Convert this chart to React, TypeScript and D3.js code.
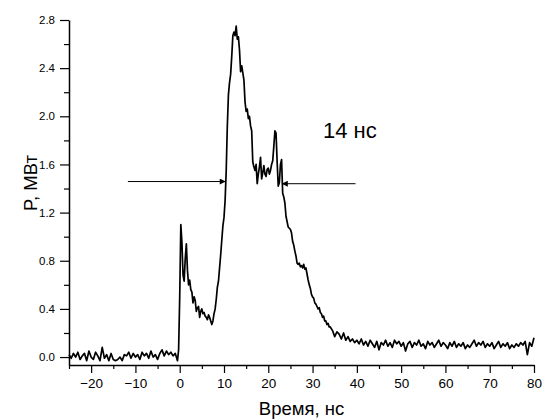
import { useEffect, useRef } from "react";
import * as d3 from "d3";

// chart size (same as the window)
const width = 543;
const height = 419;

// plot area edges, in pixels
const margin = { top: 20, right: 9, bottom: 54, left: 69 };

// signal before the trigger, [time ns, power MW]
const preTrigger: [number, number][] = [
  [-25, 0.02], [-24.5, -0.01], [-24, 0.03], [-23.5, 0.0], [-23, 0.04], [-22.5, -0.02],
  [-22, 0.01], [-21.5, 0.03], [-21, -0.03], [-20.5, 0.05], [-20, 0.0], [-19.5, -0.02],
  [-19, 0.04], [-18.5, 0.01], [-18, -0.03], [-17.5, 0.08], [-17, -0.01], [-16.5, 0.02],
  [-16, -0.03], [-15.5, 0.03], [-15, -0.02], [-14.5, -0.03], [-14, -0.02], [-13.5, 0.0],
  [-13, -0.03], [-12.5, 0.02], [-12, 0.01], [-11.5, 0.04], [-11, -0.01], [-10.5, 0.03],
  [-10, 0.0], [-9.5, 0.02], [-9, -0.02], [-8.5, 0.04], [-8, 0.01], [-7.5, 0.03],
  [-7, -0.01], [-6.5, 0.05], [-6, 0.0], [-5.5, 0.02], [-5, -0.02], [-4.5, 0.03],
  [-4, 0.06], [-3.5, 0.01], [-3, 0.05], [-2.5, 0.02], [-2, 0.04], [-1.5, 0.01],
  [-1, 0.03], [-0.5, -0.03],
];

// the pulse itself
const pulse: [number, number][] = [
  [-0.25, 0.06], [0, 0.5], [0.25, 1.1], [0.5, 0.95], [0.75, 0.68], [1, 0.63],
  [1.25, 0.82], [1.5, 0.94], [1.75, 0.72], [2, 0.6], [2.25, 0.64], [2.5, 0.56],
  [2.75, 0.54], [3, 0.45], [3.25, 0.5], [3.5, 0.47], [3.75, 0.38], [4, 0.41],
  [4.25, 0.42], [4.5, 0.33], [4.75, 0.38], [5, 0.4], [5.25, 0.36], [5.5, 0.37],
  [5.75, 0.34], [6, 0.33], [6.25, 0.31], [6.5, 0.35], [6.75, 0.33], [7, 0.3],
  [7.25, 0.27], [7.5, 0.3], [7.75, 0.36], [8, 0.4], [8.25, 0.48], [8.5, 0.58],
  [8.75, 0.63], [9, 0.74], [9.25, 0.85], [9.5, 0.97], [9.75, 1.09], [10, 1.16],
  [10.25, 1.3], [10.5, 1.55], [10.75, 1.92], [11, 2.18], [11.25, 2.28], [11.5, 2.35],
  [11.75, 2.5], [12, 2.67], [12.25, 2.7], [12.5, 2.67], [12.75, 2.75], [13, 2.64],
  [13.25, 2.66], [13.5, 2.55], [13.75, 2.37], [14, 2.42], [14.25, 2.36], [14.5, 2.3],
  [14.75, 2.12], [15, 2.04], [15.25, 2.06], [15.5, 1.98], [15.75, 2.0], [16, 1.92],
  [16.25, 1.88], [16.5, 1.62], [16.75, 1.58], [17, 1.55], [17.25, 1.6], [17.5, 1.44],
  [17.75, 1.52], [18, 1.58], [18.25, 1.66], [18.5, 1.48], [18.75, 1.53], [19, 1.59],
  [19.25, 1.52], [19.5, 1.5], [19.75, 1.56], [20, 1.57], [20.25, 1.52], [20.5, 1.55],
  [20.75, 1.6], [21, 1.63], [21.25, 1.75], [21.5, 1.88], [21.75, 1.86], [22, 1.62],
  [22.25, 1.42], [22.5, 1.45], [22.75, 1.6], [23, 1.64], [23.25, 1.36], [23.5, 1.33],
  [23.75, 1.28], [24, 1.17],
];

// decay and the long tail
const decay: [number, number][] = [
  [24.5, 1.08], [25, 1.06], [25.25, 1.03], [25.5, 0.96], [25.75, 0.93], [26, 0.88],
  [26.25, 0.84], [26.5, 0.78], [26.75, 0.77], [27, 0.78], [27.25, 0.75], [27.5, 0.76],
  [27.75, 0.74], [28, 0.77], [28.25, 0.73], [28.5, 0.74], [28.75, 0.69], [29, 0.64],
  [29.25, 0.6], [29.5, 0.57], [29.75, 0.52], [30, 0.5], [30.25, 0.49], [30.5, 0.45],
  [30.75, 0.44], [31, 0.42], [31.25, 0.4], [31.5, 0.41], [31.75, 0.37], [32, 0.36],
  [32.25, 0.33], [32.5, 0.34], [32.75, 0.3], [33, 0.3], [33.25, 0.27], [33.5, 0.28],
  [33.75, 0.25], [34, 0.25], [34.5, 0.22], [35, 0.17], [35.5, 0.21], [36, 0.19],
  [36.5, 0.15], [37, 0.2], [37.5, 0.14], [38, 0.17], [38.5, 0.13], [39, 0.15],
  [39.5, 0.12], [40, 0.14], [40.5, 0.11], [41, 0.15], [41.5, 0.1], [42, 0.13],
  [42.5, 0.09], [43, 0.14], [43.5, 0.11], [44, 0.08], [44.5, 0.13], [45, 0.06],
  [45.5, 0.12], [46, 0.1], [46.5, 0.14], [47, 0.09], [47.5, 0.12], [48, 0.08],
  [48.5, 0.14], [49, 0.11], [49.5, 0.13], [50, 0.09], [50.5, 0.12], [51, 0.05],
  [51.5, 0.11], [52, 0.13], [52.5, 0.08], [53, 0.12], [53.5, 0.1], [54, 0.14],
  [54.5, 0.09], [55, 0.11], [55.5, 0.07], [56, 0.13], [56.5, 0.1], [57, 0.12],
  [57.5, 0.08], [58, 0.11], [58.5, 0.14], [59, 0.09], [59.5, 0.12], [60, 0.1],
  [60.5, 0.07], [61, 0.12], [61.5, 0.09], [62, 0.13], [62.5, 0.08], [63, 0.11],
  [63.5, 0.09], [64, 0.12], [64.5, 0.07], [65, 0.1], [65.5, 0.08], [66, 0.11],
  [66.5, 0.14], [67, 0.09], [67.5, 0.12], [68, 0.1], [68.5, 0.13], [69, 0.08],
  [69.5, 0.11], [70, 0.09], [70.5, 0.12], [71, 0.07], [71.5, 0.1], [72, 0.13],
  [72.5, 0.08], [73, 0.11], [73.5, 0.09], [74, 0.12], [74.5, 0.07], [75, 0.1],
  [75.5, 0.08], [76, 0.11], [76.5, 0.09], [77, 0.12], [77.5, 0.1], [78, 0.13],
  [78.5, 0.02], [79, 0.12], [79.5, 0.09], [80, 0.16],
];

// tick values
const xTicks = [-20, -10, 0, 10, 20, 30, 40, 50, 60, 70, 80];
const yTicks = [0, 0.4, 0.8, 1.2, 1.6, 2.0, 2.4, 2.8];

// FWHM arrows: [from time, to time, power]
const leftArrow = [-11.7, 10.4, 1.458];
const rightArrow = [39.7, 23.05, 1.44];

const font = "'Liberation Sans', Arial, sans-serif";

const drawChart = (node: SVGSVGElement) => {
  const svg = d3.select(node);
  svg.selectAll("*").remove();

  const x = d3.scaleLinear()
    .domain([-25, 80])
    .range([margin.left, width - margin.right]);
  const y = d3.scaleLinear()
    .domain([-0.066, 2.8])
    .range([height - margin.bottom, margin.top]);

  // minor ticks first, under the axes
  const xMinor = d3.range(-25, 81, 5).filter(v => !xTicks.includes(v));
  svg.append("g")
    .attr("transform", `translate(0,${height - margin.bottom})`)
    .call(d3.axisBottom(x).tickValues(xMinor).tickSize(4).tickFormat(() => ""))
    .call(g => g.select(".domain").remove())
    .call(g => g.selectAll("line").attr("stroke-width", 1.2));

  const yMinor = d3.range(0.2, 2.8, 0.4);
  svg.append("g")
    .attr("transform", `translate(${margin.left},0)`)
    .call(d3.axisLeft(y).tickValues(yMinor).tickSize(5).tickFormat(() => ""))
    .call(g => g.select(".domain").remove())
    .call(g => g.selectAll("line").attr("stroke-width", 1.2));

  // x axis
  svg.append("g")
    .attr("transform", `translate(0,${height - margin.bottom})`)
    .call(d3.axisBottom(x).tickValues(xTicks).tickSize(8).tickSizeOuter(0).tickPadding(5))
    .call(g => g.select(".domain").attr("stroke-width", 1.5))
    .call(g => g.selectAll("line").attr("stroke-width", 1.2))
    .call(g => g.selectAll("text")
      .attr("font-family", font)
      .attr("font-size", 13.5)
      .attr("fill", "#000"));

  // y axis
  svg.append("g")
    .attr("transform", `translate(${margin.left},0)`)
    .call(d3.axisLeft(y).tickValues(yTicks).tickSize(9).tickSizeOuter(0).tickPadding(5)
      .tickFormat(d3.format(".1f")))
    .call(g => g.select(".domain").attr("stroke-width", 1.5))
    .call(g => g.selectAll("line").attr("stroke-width", 1.2))
    .call(g => g.selectAll("text")
      .attr("font-family", font)
      .attr("font-size", 11.5)
      .attr("fill", "#000"));

  // the signal
  const line = d3.line<[number, number]>()
    .x(d => x(d[0]))
    .y(d => y(d[1]));

  svg.append("path")
    .datum([...preTrigger, ...pulse, ...decay])
    .attr("fill", "none")
    .attr("stroke", "#000")
    .attr("stroke-width", 1.7)
    .attr("stroke-linejoin", "round")
    .attr("d", line);

  // arrowheads
  const defs = svg.append("defs");
  defs.append("marker")
    .attr("id", "head")
    .attr("viewBox", "0 0 10 10")
    .attr("refX", 10)
    .attr("refY", 5)
    .attr("markerWidth", 10)
    .attr("markerHeight", 6)
    .attr("markerUnits", "userSpaceOnUse")
    .attr("orient", "auto")
    .append("path")
    .attr("d", "M0,0L10,5L0,10Z")
    .attr("fill", "#000");

  [leftArrow, rightArrow].forEach(([from, to, level]) => {
    svg.append("line")
      .attr("x1", x(from))
      .attr("x2", x(to))
      .attr("y1", y(level))
      .attr("y2", y(level))
      .attr("stroke", "#000")
      .attr("stroke-width", 1)
      .attr("marker-end", "url(#head)");
  });

  // annotation
  svg.append("text")
    .attr("x", 323)
    .attr("y", 138)
    .attr("font-family", font)
    .attr("font-size", 22)
    .text("14 нс");

  // axis titles
  svg.append("text")
    .attr("x", (margin.left + width - margin.right) / 2)
    .attr("y", 415)
    .attr("text-anchor", "middle")
    .attr("font-family", font)
    .attr("font-size", 18.5)
    .text("Время, нс");

  svg.append("text")
    .attr("transform", "translate(36.5,183) rotate(-90)")
    .attr("text-anchor", "middle")
    .attr("font-family", font)
    .attr("font-size", 18.5)
    .text("P, МВт");
};

export default function App() {
  const ref = useRef<SVGSVGElement>(null);

  useEffect(() => {
    if (ref.current) drawChart(ref.current);
  }, []);

  return (
    <svg
      ref={ref}
      width={width}
      height={height}
      style={{ position: "absolute", left: 0, top: 0, background: "#fff" }}
    />
  );
}
